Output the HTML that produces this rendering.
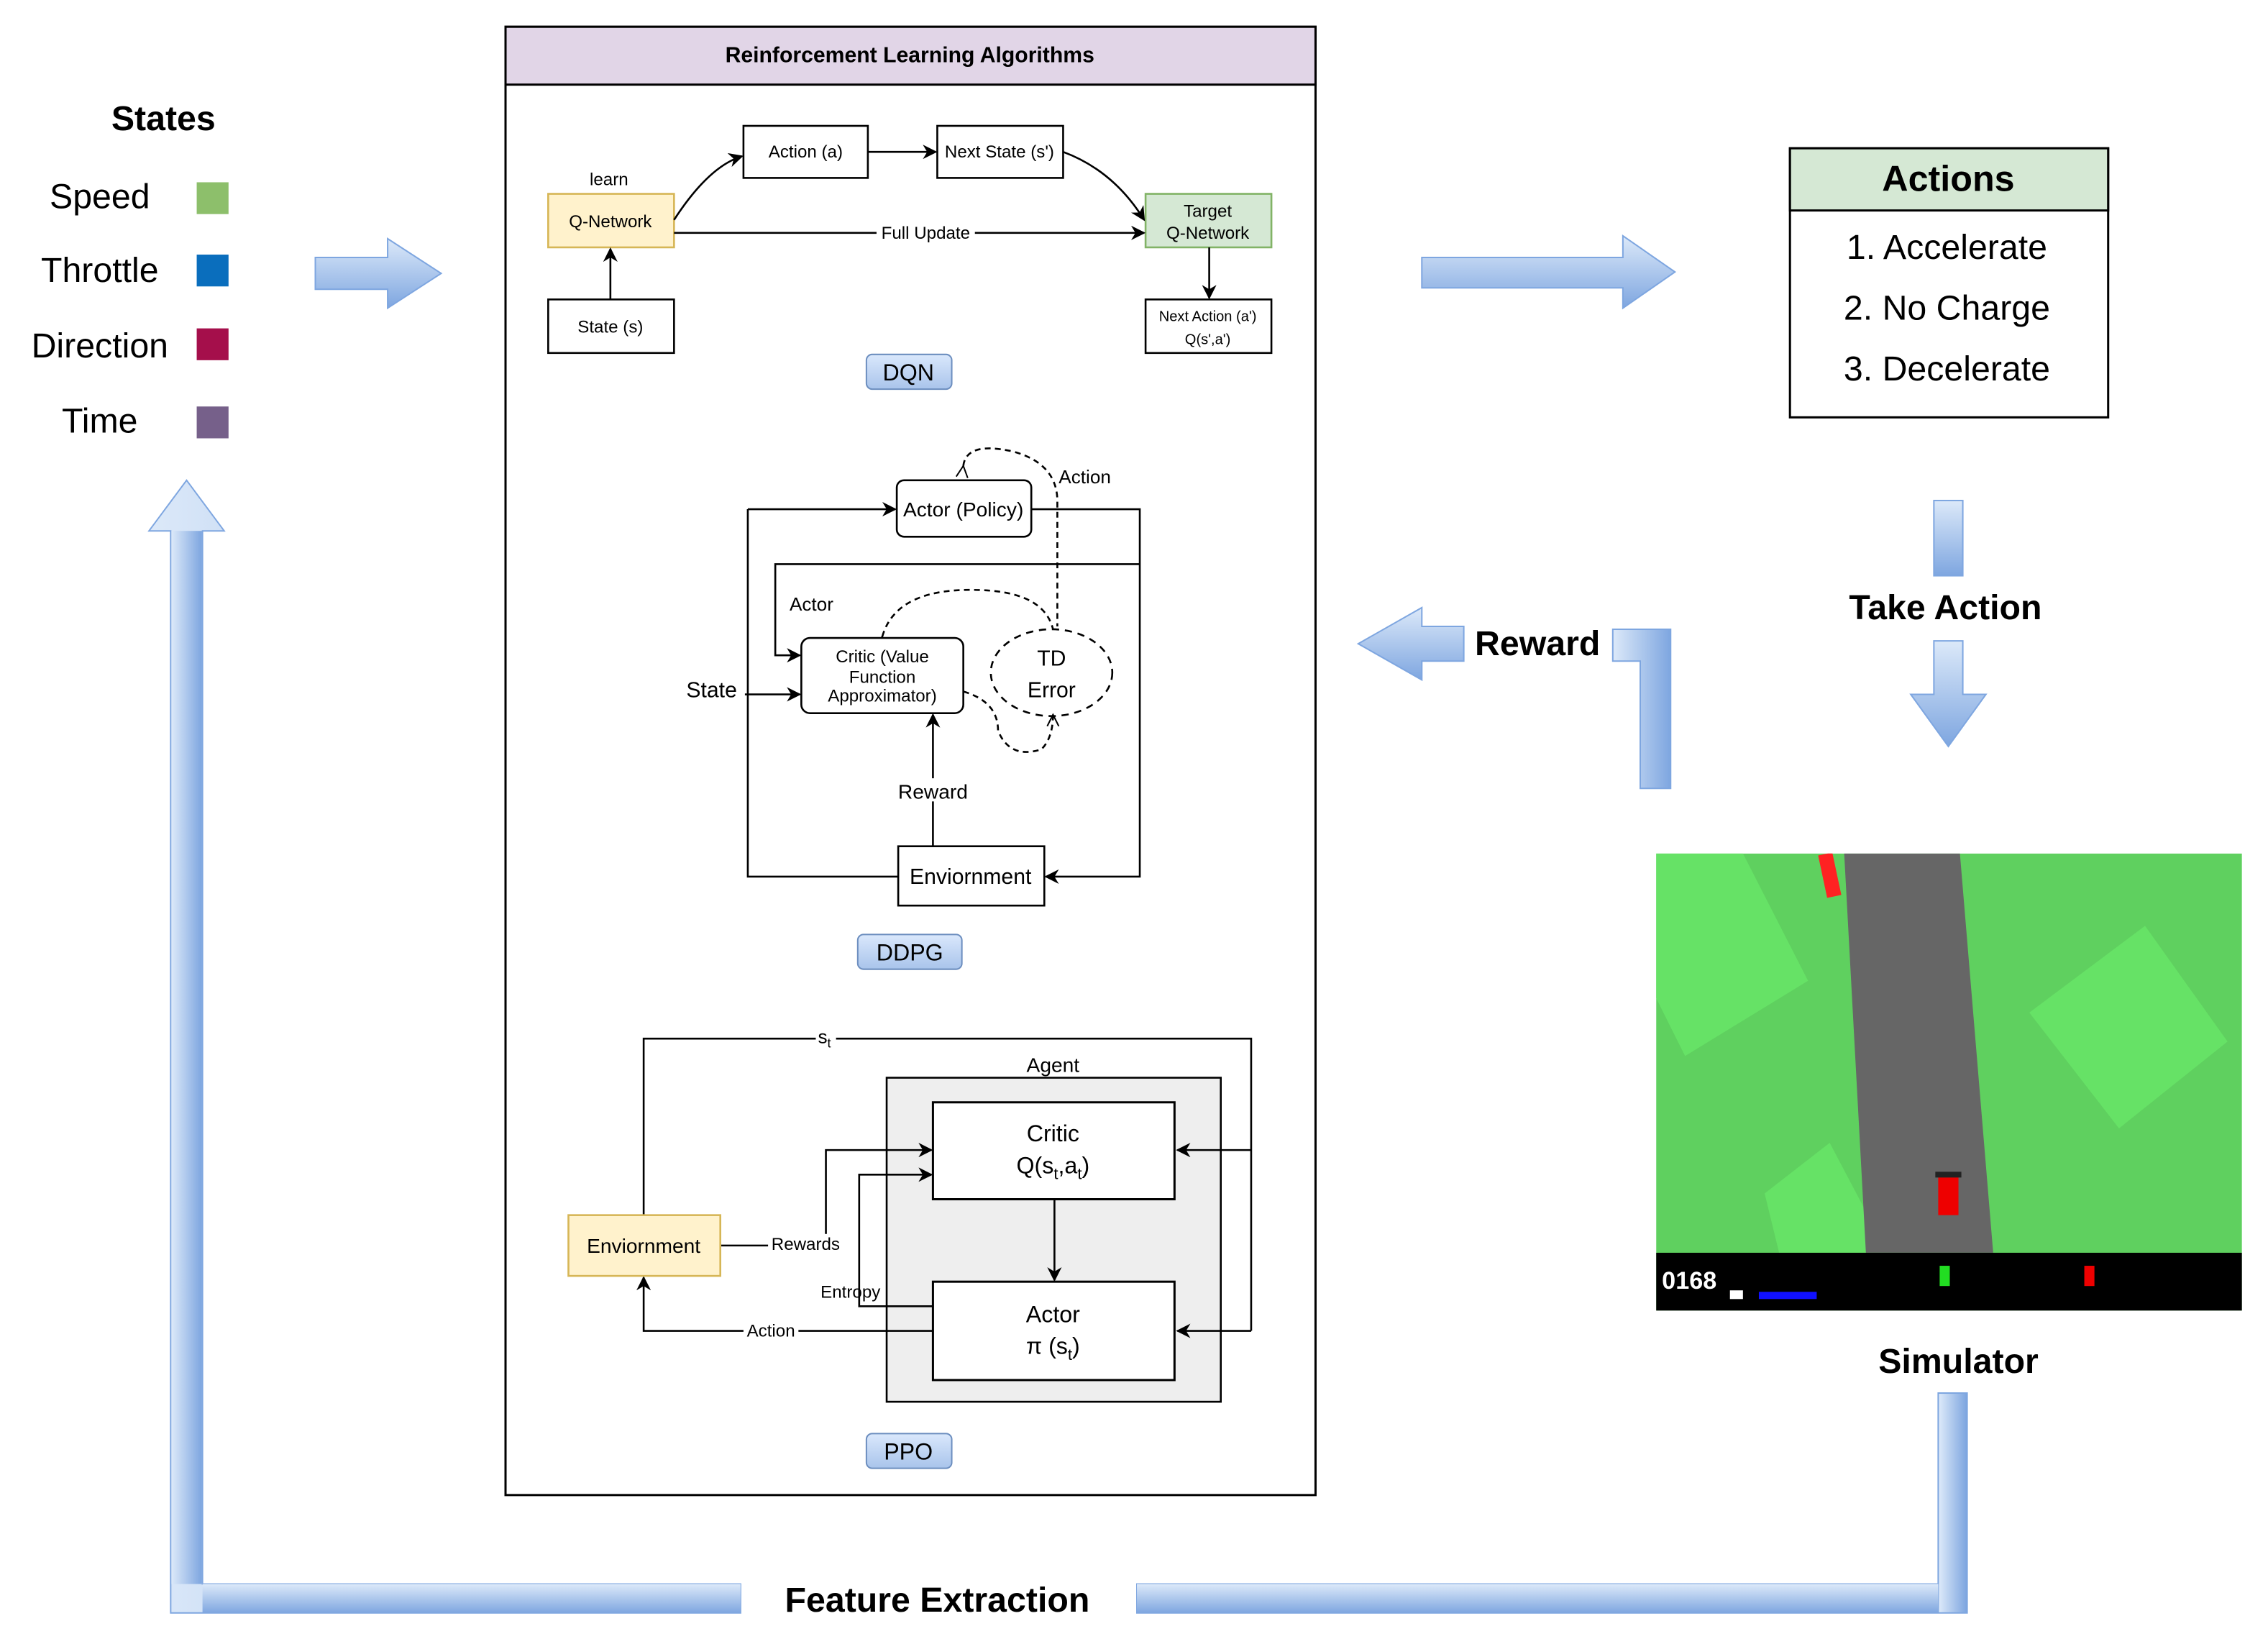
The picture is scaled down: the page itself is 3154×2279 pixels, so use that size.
<!DOCTYPE html>
<html><head><meta charset="utf-8"><style>
html,body{margin:0;padding:0;background:#fff}
svg{display:block}
text{font-family:"Liberation Sans",sans-serif;fill:#000}
</style></head><body>
<svg width="3154" height="2279" viewBox="0 0 1568 1133" preserveAspectRatio="none" xmlns="http://www.w3.org/2000/svg">
<defs>
<linearGradient id="gh" x1="0" y1="0" x2="0" y2="1"><stop offset="0" stop-color="#dce9f9"/><stop offset="1" stop-color="#7ea6e0"/></linearGradient>
<linearGradient id="gv" x1="0" y1="0" x2="1" y2="0"><stop offset="0" stop-color="#dce9f9"/><stop offset="1" stop-color="#7ea6e0"/></linearGradient>
<linearGradient id="lb" x1="0" y1="0" x2="0" y2="1"><stop offset="0" stop-color="#dae8fc"/><stop offset="1" stop-color="#a9c4eb"/></linearGradient>
<marker id="a" markerWidth="10" markerHeight="10" refX="9" refY="5" orient="auto" markerUnits="userSpaceOnUse"><path d="M0,0 L10,5 L0,10 L3,5 z" fill="#000"/></marker>
<marker id="o" markerWidth="10" markerHeight="10" refX="9" refY="5" orient="auto" markerUnits="userSpaceOnUse"><path d="M1,1 L9,5 L1,9" fill="none" stroke="#000"/></marker>
</defs>

<text x="113" y="90" font-size="24" font-weight="bold" text-anchor="middle">States</text>
<text x="69" y="144" font-size="24" text-anchor="middle">Speed</text>
<rect x="136" y="126" width="22" height="22" fill="#8dbf6b"/>
<text x="69" y="195" font-size="24" text-anchor="middle">Throttle</text>
<rect x="136" y="176" width="22" height="22" fill="#0a6ebd"/>
<text x="69" y="247" font-size="24" text-anchor="middle">Direction</text>
<rect x="136" y="227" width="22" height="22" fill="#a50f4b"/>
<text x="69" y="299" font-size="24" text-anchor="middle">Time</text>
<rect x="136" y="281" width="22" height="22" fill="#76608a"/>

<path d="M218,178 H268 V165 L305,189 L268,213 V200 H218 Z" fill="url(#gh)" stroke="#7ea6e0"/>
<path d="M983,178 H1122 V163 L1158,188 L1122,213 V199 H983 Z" fill="url(#gh)" stroke="#7ea6e0"/>

<rect x="349.5" y="18.5" width="560" height="1015" fill="#fff" stroke="#000" stroke-width="1.5"/>
<rect x="349.5" y="18.5" width="560" height="40" fill="#e1d5e7" stroke="#000" stroke-width="1.5"/>
<text x="629" y="43" font-size="15" font-weight="bold" text-anchor="middle">Reinforcement Learning Algorithms</text>

<g font-size="12" stroke-width="1.3">
<rect x="514" y="87" width="86" height="36" fill="#fff" stroke="#000"/>
<text x="557" y="109" text-anchor="middle" font-size="12">Action (a)</text>
<rect x="648" y="87" width="87" height="36" fill="#fff" stroke="#000"/>
<text x="691" y="109" text-anchor="middle" font-size="12">Next State (s')</text>
<rect x="379" y="134" width="87" height="37" fill="#fff2cc" stroke="#d6b656"/>
<text x="422" y="157" text-anchor="middle" font-size="12">Q-Network</text>
<rect x="792" y="134" width="87" height="37" fill="#d5e8d4" stroke="#82b366"/>
<text x="835" y="150" text-anchor="middle" font-size="12">Target</text>
<text x="835" y="165" text-anchor="middle" font-size="12">Q-Network</text>
<rect x="379" y="207" width="87" height="37" fill="#fff" stroke="#000"/>
<text x="422" y="230" text-anchor="middle" font-size="12">State (s)</text>
<rect x="792" y="207" width="87" height="37" fill="#fff" stroke="#000"/>
<text x="835" y="222" text-anchor="middle" font-size="10">Next Action (a')</text>
<text x="835" y="238" text-anchor="middle" font-size="10">Q(s',a')</text>
<text x="421" y="128" text-anchor="middle" font-size="12">learn</text>
<path d="M466,152 Q490,115 513,108" fill="none" stroke="#000" marker-end="url(#a)"/>
<path d="M600,105 H647" fill="none" stroke="#000" marker-end="url(#a)"/>
<path d="M735,105 Q770,118 791,152" fill="none" stroke="#000" marker-end="url(#a)"/>
<path d="M466,161 H791" fill="none" stroke="#000" marker-end="url(#a)"/>
<rect x="606" y="154" width="68" height="13" fill="#fff"/>
<text x="640" y="165" text-anchor="middle" font-size="12">Full Update</text>
<path d="M422,207 V172" fill="none" stroke="#000" marker-end="url(#a)"/>
<path d="M836,171 V206" fill="none" stroke="#000" marker-end="url(#a)"/>
</g>
<rect x="599" y="245" width="59" height="24" rx="4" fill="url(#lb)" stroke="#6c8ebf"/>
<text x="628" y="263" font-size="16" text-anchor="middle">DQN</text>

<g stroke-width="1.3" fill="none" stroke="#000">
<path d="M517,352 V606 H621"/>
<path d="M517,352 H619" marker-end="url(#a)"/>
<path d="M713,352 H788 V606 H723" marker-end="url(#a)"/>
<path d="M788,390 H536 V453 H553" marker-end="url(#a)"/>
<path d="M515,480 H553" marker-end="url(#a)"/>
<path d="M645,585 V494" marker-end="url(#a)"/>
<path d="M666,322 Q668,305 700,312 Q730,320 731,345 V433" stroke-dasharray="4,3" marker-start="url(#o)"/>
<path d="M610,440 Q620,405 680,408 Q722,410 728,435" stroke-dasharray="4,3" marker-start="url(#o)"/>
<path d="M666,478 Q690,485 690,505 Q698,525 720,518 Q728,510 728,494" stroke-dasharray="4,3" marker-end="url(#o)"/>
<ellipse cx="727" cy="465" rx="42" ry="30" stroke-dasharray="5,4"/>
</g>
<rect x="620" y="332" width="93" height="39" rx="5" fill="#fff" stroke="#000" stroke-width="1.3"/>
<text x="666" y="357" font-size="14" text-anchor="middle">Actor (Policy)</text>
<text x="750" y="334" font-size="13" text-anchor="middle">Action</text>
<text x="561" y="422" font-size="13" text-anchor="middle">Actor</text>
<text x="492" y="482" font-size="15" text-anchor="middle">State</text>
<rect x="554" y="441" width="112" height="52" rx="6" fill="#fff" stroke="#000" stroke-width="1.3"/>
<text x="610" y="458" font-size="12" text-anchor="middle">Critic (Value</text>
<text x="610" y="472" font-size="12" text-anchor="middle">Function</text>
<text x="610" y="485" font-size="12" text-anchor="middle">Approximator)</text>
<text x="727" y="460" font-size="15" text-anchor="middle">TD</text>
<text x="727" y="482" font-size="15" text-anchor="middle">Error</text>
<rect x="615" y="538" width="60" height="16" fill="#fff"/>
<text x="645" y="552" font-size="14" text-anchor="middle">Reward</text>
<rect x="621" y="585" width="101" height="41" fill="#fff" stroke="#000" stroke-width="1.3"/>
<text x="671" y="611" font-size="15" text-anchor="middle">Enviornment</text>
<rect x="593" y="646" width="72" height="24" rx="4" fill="url(#lb)" stroke="#6c8ebf"/>
<text x="629" y="664" font-size="16" text-anchor="middle">DDPG</text>

<g stroke-width="1.3" fill="none" stroke="#000">
<path d="M445,840 V718 H865 V920"/>
<rect x="613" y="745" width="231" height="224" fill="#eeeeee"/>
<path d="M865,795 H814" marker-end="url(#a)"/>
<path d="M865,920 H814" marker-end="url(#a)"/>
<path d="M729,829 V885" marker-end="url(#a)"/>
<path d="M498,861 H571 V795 H644" marker-end="url(#a)"/>
<path d="M645,903 H594 V812 H644" marker-end="url(#a)"/>
<path d="M645,920 H445 V883" marker-end="url(#a)"/>
</g>
<rect x="564" y="711" width="14" height="14" fill="#fff"/>
<text x="570" y="721" font-size="13" text-anchor="middle">s<tspan font-size="9" dy="3">t</tspan></text>
<text x="728" y="741" font-size="14" text-anchor="middle">Agent</text>
<rect x="645" y="762" width="167" height="67" fill="#fff" stroke="#000" stroke-width="1.5"/>
<text x="728" y="789" font-size="16" text-anchor="middle">Critic</text>
<text x="728" y="811" font-size="16" text-anchor="middle">Q(s<tspan font-size="11" dy="4">t</tspan><tspan dy="-4">,a</tspan><tspan font-size="11" dy="4">t</tspan><tspan dy="-4">)</tspan></text>
<rect x="645" y="886" width="167" height="68" fill="#fff" stroke="#000" stroke-width="1.5"/>
<text x="728" y="914" font-size="16" text-anchor="middle">Actor</text>
<text x="728" y="936" font-size="16" text-anchor="middle">π (s<tspan font-size="11" dy="4">t</tspan><tspan dy="-4">)</tspan></text>
<rect x="393" y="840" width="105" height="42" fill="#fff2cc" stroke="#d6b656" stroke-width="1.3"/>
<text x="445" y="866" font-size="14" text-anchor="middle">Enviornment</text>
<rect x="531" y="853" width="52" height="13" fill="#fff"/>
<text x="557" y="864" font-size="12" text-anchor="middle">Rewards</text>
<text x="588" y="897" font-size="12" text-anchor="middle">Entropy</text>
<rect x="514" y="913" width="38" height="13" fill="#fff"/>
<text x="533" y="924" font-size="12" text-anchor="middle">Action</text>
<rect x="599" y="991" width="59" height="24" rx="4" fill="url(#lb)" stroke="#6c8ebf"/>
<text x="628" y="1009" font-size="16" text-anchor="middle">PPO</text>

<rect x="1237.5" y="102.5" width="220" height="186" fill="#fff" stroke="#000" stroke-width="1.5"/>
<rect x="1237.5" y="102.5" width="220" height="43" fill="#d5e8d4" stroke="#000" stroke-width="1.5"/>
<text x="1347" y="132" font-size="25" font-weight="bold" text-anchor="middle">Actions</text>
<text x="1346" y="179" font-size="24" text-anchor="middle">1. Accelerate</text>
<text x="1346" y="221" font-size="24" text-anchor="middle">2. No Charge</text>
<text x="1346" y="263" font-size="24" text-anchor="middle">3. Decelerate</text>

<rect x="1337" y="346" width="20" height="52" fill="url(#gh)" stroke="#7ea6e0"/>
<text x="1345" y="428" font-size="24" font-weight="bold" text-anchor="middle">Take Action</text>
<path d="M1337,443 H1357 V480 H1373 L1347,516 L1321,480 H1337 Z" fill="url(#gh)" stroke="#7ea6e0"/>

<path d="M983,433 V420 L939,445 L983,470 V457 H1012 V433 Z" fill="url(#gh)" stroke="#7ea6e0"/>
<path d="M1115,435 H1155 V545 H1134 V457 H1115 Z" fill="url(#gv)" stroke="#7ea6e0"/>
<text x="1063" y="453" font-size="24" font-weight="bold" text-anchor="middle">Reward</text>

<svg x="1145" y="590" width="405" height="316" viewBox="0 0 405 316">
<rect width="405" height="316" fill="#5fd05f"/>
<path d="M0,0 H60 L105,88 L20,140 L0,100 Z" fill="#66e266"/>
<path d="M258,110 L338,50 L395,130 L320,190 Z" fill="#66e266"/>
<path d="M75,235 L120,200 L160,276 H85 Z" fill="#66e266"/>
<path d="M130,0 H210 L233,276 H145 Z" fill="#666"/>
<rect x="115" y="0" width="10" height="30" fill="#f22" transform="rotate(-12 120 15)"/>
<rect x="195" y="222" width="14" height="28" fill="#e00"/>
<rect x="193" y="220" width="18" height="4" fill="#222"/>
<rect x="0" y="276" width="405" height="40" fill="#000"/>
<text x="4" y="301" font-size="17" font-weight="bold" style="fill:#fff">0168</text>
<rect x="51" y="302" width="9" height="6" fill="#fff"/>
<rect x="71" y="303" width="40" height="5" fill="#1010ff"/>
<rect x="196" y="285" width="7" height="14" fill="#2d2"/>
<rect x="296" y="285" width="7" height="14" fill="#e00"/>
</svg>
<text x="1354" y="949" font-size="24" font-weight="bold" text-anchor="middle">Simulator</text>

<path d="M118,1115 V367 H103 L129,332 L155,367 H140 V1095 H512 V1115 Z" fill="url(#gv)" stroke="#7ea6e0"/>
<rect x="118.5" y="367" width="21" height="728" fill="url(#gv)"/>
<path d="M786,1095 H1340 V963 H1360 V1115 H786 Z" fill="url(#gv)" stroke="#7ea6e0"/>
<rect x="1340.5" y="963.5" width="19" height="151" fill="url(#gv)"/>
<rect x="140" y="1095" width="372" height="20" fill="url(#gh)"/>
<rect x="786" y="1095" width="554" height="20" fill="url(#gh)"/>
<text x="648" y="1114" font-size="24" font-weight="bold" text-anchor="middle">Feature Extraction</text>
</svg>
</body></html>
